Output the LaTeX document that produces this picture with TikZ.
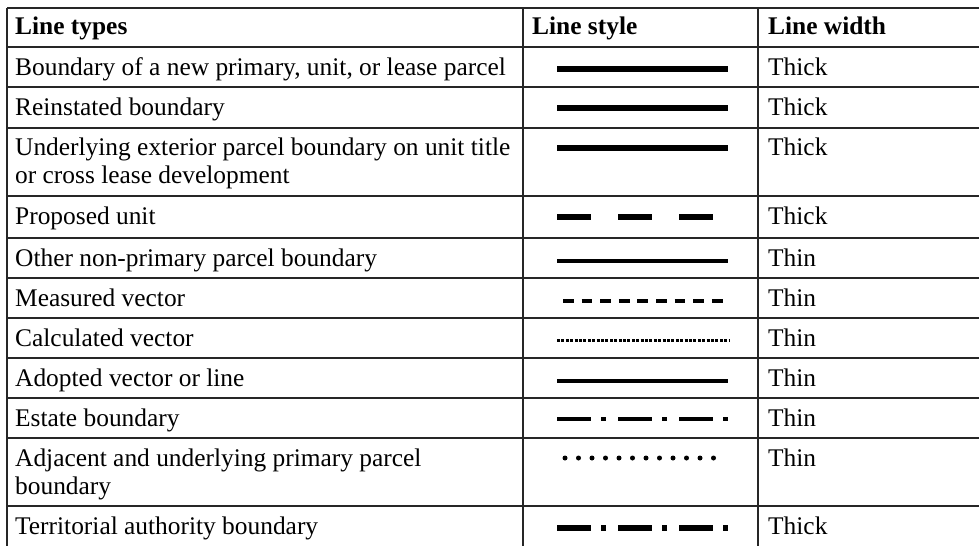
\documentclass[tikz,border=0pt]{standalone}
\usepackage{fontspec}
\setmainfont{Liberation Serif}

\tikzstyle{texto} = [font=\fontsize{25.4}{28}\selectfont, inner sep=0pt, anchor=base west, align=left]
\tikzstyle{titulo} = [texto, font=\fontsize{25.4}{28}\selectfont\bfseries]
\tikzstyle{grade} = [line width=1.6pt, black!85]
\tikzstyle{grossa} = [line width=6pt]
\tikzstyle{fina} = [line width=4.5pt]
\tikzstyle{tracoponto} = [dash pattern=on 34pt off 10pt on 5pt off 12pt]

\begin{document}
\begin{tikzpicture}[x=1pt, y=-1pt]

    \useasboundingbox (0,0) rectangle (979,546);

    % table grid
    \foreach \yy in {8,47,87,128,196,238,278,318,358,398,438,506}
        \draw [grade] (7,\yy) -- (979,\yy);
    \draw [grade] (7,8) -- (7,546);
    \draw [grade] (523,8) -- (523,546);
    \draw [grade] (758,8) -- (758,546);

    % header
    \node at (15,34) [titulo] (cabtipo) {Line types};
    \node at (532,34) [titulo] (cabestilo) {Line style};
    \node at (768,34) [titulo] (cablargura) {Line width};

    % line types (two-line cells: base is the last line)
    \node at (15,75) [texto] (tipoA) {Boundary of a new primary, unit, or lease parcel};
    \node at (15,115) [texto] (tipoB) {Reinstated boundary};
    \node at (15,183) [texto] (tipoC) {Underlying exterior parcel boundary on unit title\\or cross lease development};
    \node at (15,224) [texto] (tipoD) {Proposed unit};
    \node at (15,266) [texto] (tipoE) {Other non-primary parcel boundary};
    \node at (15,306) [texto] (tipoF) {Measured vector};
    \node at (15,346) [texto] (tipoG) {Calculated vector};
    \node at (15,386) [texto] (tipoH) {Adopted vector or line};
    \node at (15,426) [texto] (tipoI) {Estate boundary};
    \node at (15,494) [texto] (tipoJ) {Adjacent and underlying primary parcel\\boundary};
    \node at (15,534) [texto] (tipoK) {Territorial authority boundary};

    % line styles
    \draw [grossa] (557,69) -- (728,69);
    \draw [grossa] (557,108) -- (728,108);
    \draw [grossa] (557,148) -- (728,148);
    \draw [grossa, dash pattern=on 34pt off 27pt] (557,217) -- (713,217);
    \draw [fina] (557,261) -- (728,261);
    \draw [line width=4.3pt, dash pattern=on 10.7pt off 7.9pt] (563,301) -- (724,301);
    \draw [line width=3pt, dash pattern=on 3pt off 1.4pt] (557,340) -- (730,340);
    \draw [fina] (557,381) -- (728,381);
    \draw [fina, tracoponto] (557,419) -- (728,419);
    \draw [line width=5pt, line cap=round, dash pattern=on 0pt off 13.5pt] (565,458) -- (715,458);
    \draw [grossa, tracoponto] (557,528) -- (728,528);

    % line widths
    \node at (768,75) [texto] (larguraA) {Thick};
    \node at (768,115) [texto] (larguraB) {Thick};
    \node at (768,155) [texto] (larguraC) {Thick};
    \node at (768,224) [texto] (larguraD) {Thick};
    \node at (768,266) [texto] (larguraE) {Thin};
    \node at (768,306) [texto] (larguraF) {Thin};
    \node at (768,346) [texto] (larguraG) {Thin};
    \node at (768,386) [texto] (larguraH) {Thin};
    \node at (768,426) [texto] (larguraI) {Thin};
    \node at (768,466) [texto] (larguraJ) {Thin};
    \node at (768,534) [texto] (larguraK) {Thick};

\end{tikzpicture}
\end{document}
